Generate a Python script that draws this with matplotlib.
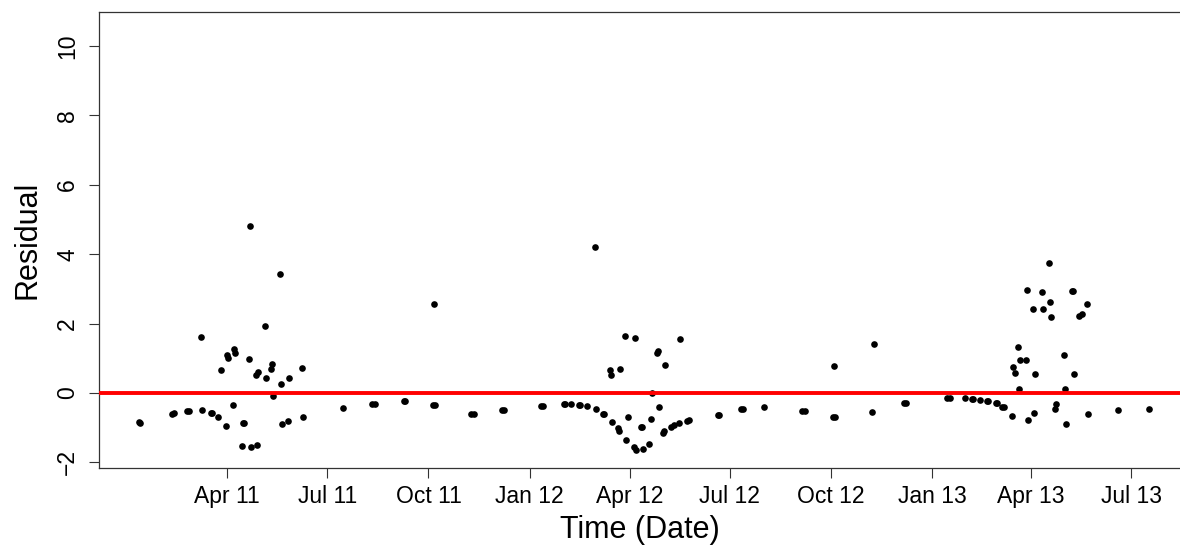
import numpy as np
import matplotlib
matplotlib.use("Agg")
import matplotlib.pyplot as plt
import matplotlib.dates as mdates

plt.rcParams['font.family'] = ['Liberation Sans', 'DejaVu Sans']

# residuals, x given as days since 2011-04-01
start = np.datetime64('2011-04-01')
days = [-80, -79, -50, -48, -37, -35, -24, -23, -15, -14, -8, -6, -1, 0, 1, 5, 6, 7,
        13, 14, 15, 20, 21, 22, 26, 27, 28, 34, 35, 40, 41, 42, 48, 49, 50, 55, 56,
        68, 69,
        105, 132, 134, 161, 162, 188, 187, 189, 222, 224, 250, 252, 285, 287,
        306, 307, 313, 320, 321, 327, 334, 335, 342, 343, 348, 349, 350, 355, 356,
        357, 362, 363, 364, 370, 371, 372, 376, 377, 378, 384, 385, 386, 391, 392,
        393, 396, 397, 398, 404, 406, 411, 412, 418, 420, 446, 447,
        467, 469, 488, 523, 525, 552, 551, 553, 586, 588, 615, 617,
        655, 657, 671, 677, 678, 685, 691, 692, 699, 700, 705, 706, 714, 715, 716,
        719, 720, 721, 726, 727, 728, 733, 734, 735, 741, 742, 747, 748, 749, 753,
        754, 761, 762, 763, 768, 769, 770, 775, 777, 782, 783, 810, 838]
resid = [-0.84, -0.85, -0.59, -0.57, -0.51, -0.51, 1.61, -0.49, -0.57, -0.57, -0.70,
         0.66, -0.94, 1.10, 1.00, -0.35, 1.26, 1.16,
         -1.52, -0.87, -0.87, 0.99, 4.82, -1.55, 0.52, -1.50, 0.60, 1.92, 0.42, 0.68,
         0.83, -0.08, 3.43, 0.25, -0.89, -0.82, 0.44,
         0.73, -0.70,
         -0.43, -0.31, -0.31, -0.23, -0.23, 2.57, -0.35, -0.35, -0.60, -0.60, -0.50,
         -0.50, -0.36, -0.36,
         -0.33, -0.33, -0.33, -0.34, -0.34, -0.37, 4.21, -0.45, -0.59, -0.59, 0.67,
         0.52, -0.83, -1.02, -1.09,
         0.70, 1.65, -1.36, -0.70, -1.55, 1.59, -1.63, -0.97, -0.97, -1.61, -1.47,
         -0.76, -0.01, 1.14, 1.21,
         -0.39, -1.14, -1.09, 0.81, -0.97, -0.91, -0.87, 1.55, -0.81, -0.77, -0.63,
         -0.63,
         -0.46, -0.46, -0.41, -0.52, -0.52, 0.78, -0.68, -0.68, -0.56, 1.41, -0.30,
         -0.30,
         -0.15, -0.15, -0.14, -0.16, -0.16, -0.20, -0.22, -0.22, -0.30, -0.30, -0.41,
         -0.41, -0.65, 0.74, 0.59,
         1.32, 0.12, 0.95, 0.94, 2.97, -0.78, 2.42, -0.58, 0.55, 2.91, 2.42, 3.74,
         2.63, 2.18, -0.46,
         -0.32, 1.10, 0.11, -0.90, 2.94, 2.94, 0.54, 2.22, 2.28, 2.56, -0.61, -0.49,
         -0.47]

tick_dates = ['2011-04-01', '2011-07-01', '2011-10-01', '2012-01-01', '2012-04-01',
              '2012-07-01', '2012-10-01', '2013-01-01', '2013-04-01', '2013-07-01']
tick_labels = ['Apr 11', 'Jul 11', 'Oct 11', 'Jan 12', 'Apr 12',
               'Jul 12', 'Oct 12', 'Jan 13', 'Apr 13', 'Jul 13']
y_ticks = [-2, 0, 2, 4, 6, 8, 10]

dates = start + np.array(days).astype('timedelta64[D]')

W, H = 1180, 550
fig = plt.figure(figsize=(W / 100, H / 100), dpi=100)
x0, x1, y0, y1 = 98.7, 1185, 12, 468
ax = fig.add_axes([x0 / W, 1 - y1 / H, (x1 - x0) / W, (y1 - y0) / H])

ax.scatter(dates, resid, s=23, color='black', linewidths=0, zorder=2)
ax.axhline(0, color='red', lw=2.8, zorder=3)

t0 = mdates.date2num(start)
ax.set_xlim(t0 - 116.9, t0 + 871.0)
ax.set_ylim(-2.16, 10.98)

ax.set_xticks([mdates.date2num(np.datetime64(d)) for d in tick_dates])
ax.set_xticklabels(tick_labels)
ax.set_yticks(y_ticks)
ax.set_yticklabels([str(v).replace('-', '\u2212') for v in y_ticks],
                   rotation=90, va='center')

ax.tick_params(axis='both', direction='out', length=7, width=0.8,
               labelsize=16.5, color='#333333')
ax.tick_params(axis='x', pad=5)
ax.tick_params(axis='y', pad=7)
for sp in ax.spines.values():
    sp.set_linewidth(0.9)
    sp.set_color('#333333')

ax.set_xlabel('Time (Date)', fontsize=22)
ax.set_ylabel('Residual', fontsize=22)
ax.xaxis.set_label_coords(0.5 + (640 - (x0 + x1) / 2) / (x1 - x0), -(515 - y1) / (y1 - y0))
ax.yaxis.set_label_coords(-(x0 - 43) / (x1 - x0), 0.5)

fig.savefig('out.png', dpi=100)
